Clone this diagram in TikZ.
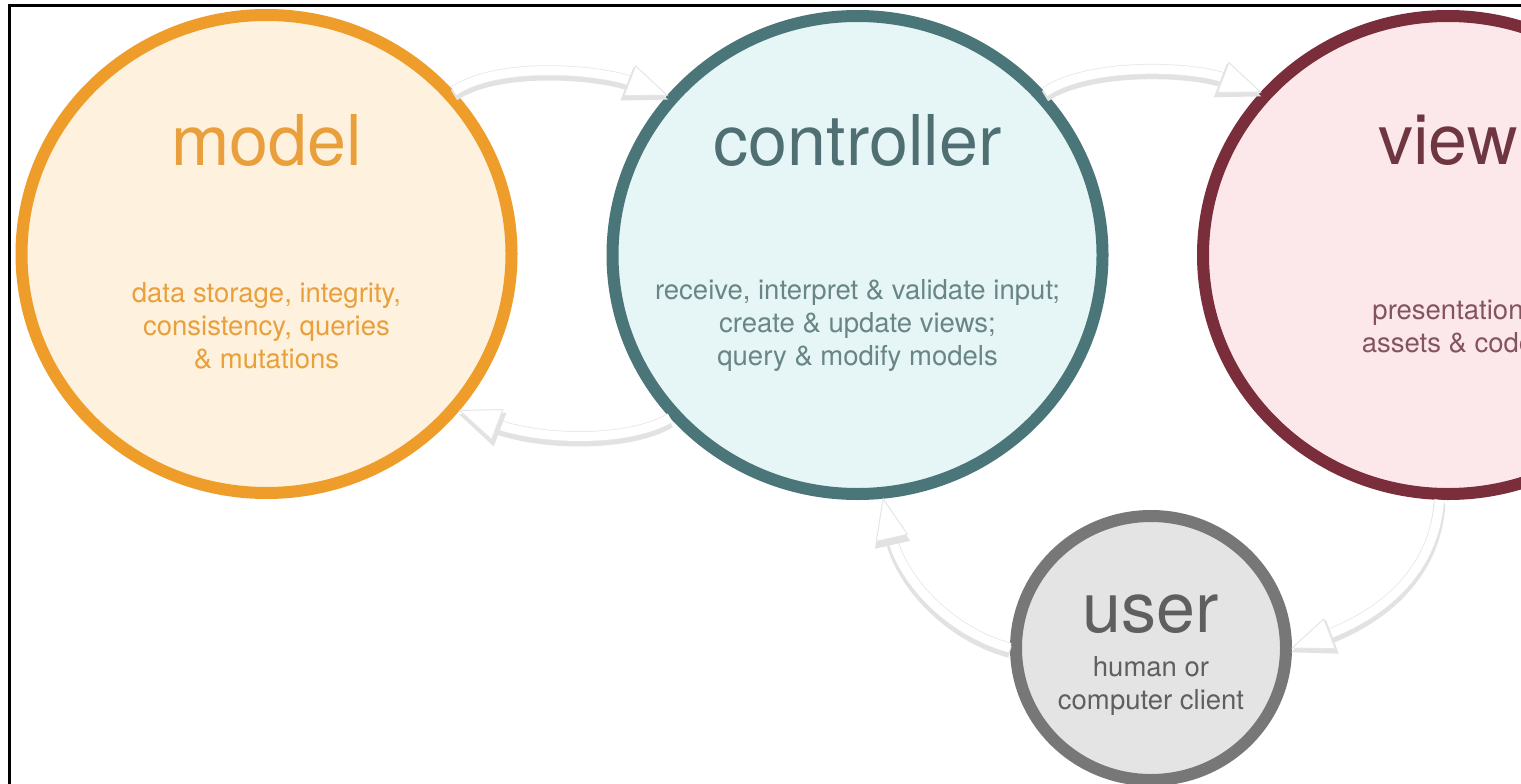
\documentclass[tikz,border=0pt]{standalone}
\usepackage{fontspec}
\setmainfont{TeX Gyre Heros}
\usetikzlibrary{shapes.geometric,decorations.markings}
\definecolor{modelstroke}{HTML}{EE9D2B}
\definecolor{modelfill}{HTML}{FEF1DD}
\definecolor{modeltext}{HTML}{E9A03C}
\definecolor{ctrlstroke}{HTML}{4B7679}
\definecolor{ctrlfill}{HTML}{E6F5F5}
\definecolor{ctrltext}{HTML}{4F6F72}
\definecolor{viewstroke}{HTML}{7A2E3B}
\definecolor{viewfill}{HTML}{FCE8EB}
\definecolor{viewtext}{HTML}{6E3641}
\definecolor{userstroke}{HTML}{777777}
\definecolor{userfill}{HTML}{E4E4E4}
\definecolor{usertext}{HTML}{5F5F5F}
\definecolor{flowedge}{HTML}{E6E6E6}
\definecolor{flowshadow}{HTML}{E2E2E2}
\tikzset{
  bubble/.style={ellipse, line width=12pt, inner sep=0pt, minimum width=490pt, minimum height=478pt},
  title/.style={anchor=base, inner sep=0pt, font=\fontsize{70}{84}\selectfont},
  body/.style={align=center, inner sep=0pt, font=\fontsize{27.5}{33}\selectfont},
  flowtip/.style={decoration={markings, mark=at position 0.9995 with {
      \fill[flowshadow, shorten >=0pt, transform canvas={yshift=-4pt}]
        (1pt,0pt) -- (-43pt,18pt) -- (-43pt,-18pt) -- cycle;
      \filldraw[fill=white, draw=flowedge, line width=1pt, shorten >=0pt]
        (0pt,0pt) -- (-40pt,16pt) -- (-40pt,-16pt) -- cycle;
    }}, decorate},
  flow/.style={line width=9pt, draw=white, shorten >=37pt,
    preaction={draw=flowshadow, line width=12pt, transform canvas={yshift=-4pt}},
    preaction={draw=flowedge, line width=10.5pt},
    postaction={flowtip}}
}
\begin{document}
\begin{tikzpicture}[x=1pt,y=-1pt]
\useasboundingbox (0,0) rectangle (1521,784);
\clip (0,0) rectangle (1521,784);
\fill[white] (0,0) rectangle (1521,784);
\draw[line width=3pt] (9.5,800) -- (9.5,6) -- (1540,6);

\node (model) [bubble, draw=modelstroke, fill=modelfill] at (266.5,254) {};
\node (controller) [bubble, draw=ctrlstroke, fill=ctrlfill] at (857.5,255) {};
\node (view) [bubble, draw=viewstroke, fill=viewfill] at (1448,255) {};
\node (user) [ellipse, line width=12pt, inner sep=0pt, minimum width=270pt, minimum height=264pt, draw=userstroke, fill=userfill] at (1151,648) {};

\node (modeltitle) [title, text=modeltext] at (266.5,165) {model};
\node (ctrltitle) [title, text=ctrltext] at (857.5,165) {controller};
\node (viewtitle) [title, text=viewtext] at (1448,164) {view};
\node (usertitle) [title, text=usertext] at (1151,632) {user};

\node (modelbody) [body, text=modeltext] at (266.5,326) {data storage, integrity,\\consistency, queries\\\& mutations};
\node (ctrlbody) [body, text=ctrltext!85!white] at (857.5,325) {receive, interpret \& validate input;\\create \& update views;\\query \& modify models};
\node (viewbody) [body, text=viewtext!85!white] at (1448,327) {presentation\\assets \& code};
\node (userbody) [body, text=usertext] at (1151,686) {human or\\computer client};

\draw[flow] (model.41) .. controls +(45,-30) and +(-67,-26) .. (controller.140);
\draw[flow] (controller.221) .. controls +(-42,25) and +(80,30) .. (model.321);
\draw[flow] (controller.41) .. controls +(45,-30) and +(-67,-26) .. (view.139);
\draw[flow] (view.268) .. controls +(-5,72) and +(90,-34) .. (user.0);
\draw[flow] (user.180) .. controls +(-62,-17) and +(18,80) .. (controller.276);
\end{tikzpicture}
\end{document}
